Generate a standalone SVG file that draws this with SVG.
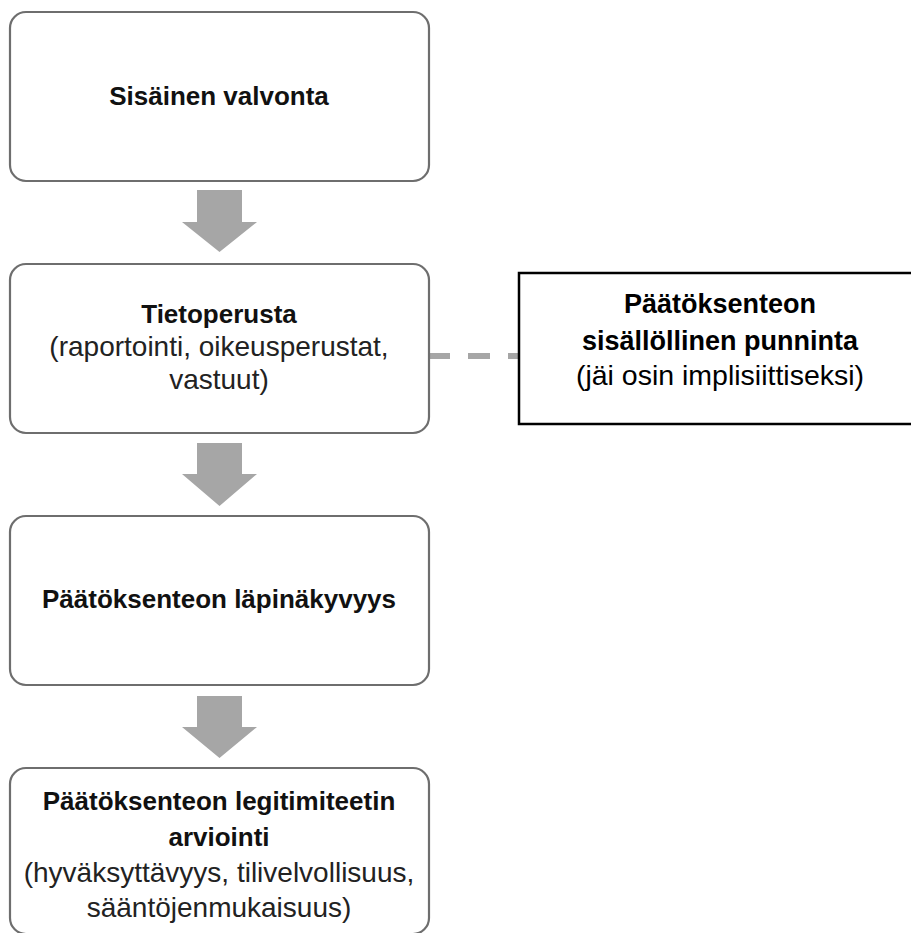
<svg xmlns="http://www.w3.org/2000/svg" width="911" height="933" viewBox="0 0 911 933">
<defs>
<style>
.box{fill:#ffffff;stroke:#6e6e6e;stroke-width:2.2}
.side{fill:#ffffff;stroke:#000000;stroke-width:2.5}
.arrow{fill:#a6a6a6}
.dash{stroke:#a6a6a6;stroke-width:6;stroke-dasharray:22 18;fill:none}
.b{font-family:"Liberation Sans",Arial,sans-serif;font-weight:bold;font-size:26px;fill:#111;text-anchor:middle}
.r{font-family:"Liberation Sans",Arial,sans-serif;font-size:28px;fill:#222;text-anchor:middle}
.bs{font-family:"Liberation Sans",Arial,sans-serif;font-weight:bold;font-size:27px;fill:#000;text-anchor:middle}
.rs{font-family:"Liberation Sans",Arial,sans-serif;font-size:28.5px;fill:#000;text-anchor:middle}
</style>
</defs>
<rect width="911" height="933" fill="#ffffff"/>
<g id="connectors">
<path class="arrow" d="M197,190 H242 V222 H257 L219.5,252 L182,222 H197 Z"/>
<path class="arrow" d="M197,443 H242 V474 H257 L219.5,506 L182,474 H197 Z"/>
<path class="arrow" d="M197,696 H242 V727 H257 L219.5,758 L182,727 H197 Z"/>
<line class="dash" x1="428" y1="356" x2="519" y2="356"/>
</g>
<g id="node-sisainen">
<rect class="box" x="10" y="12" width="419" height="169" rx="16"/>
<text class="b" x="219" y="105">Sisäinen valvonta</text>
</g>
<g id="node-tietoperusta">
<rect class="box" x="10" y="264" width="419" height="169" rx="16"/>
<text class="b" x="219" y="323">Tietoperusta</text>
<text class="r" x="219" y="356">(raportointi, oikeusperustat,</text>
<text class="r" x="219" y="389">vastuut)</text>
</g>
<g id="node-lapinakyvyys">
<rect class="box" x="10" y="516" width="419" height="169" rx="16"/>
<text class="b" x="219" y="608">Päätöksenteon läpinäkyvyys</text>
</g>
<g id="node-legitimiteetti">
<rect class="box" x="10" y="768" width="419" height="166" rx="16"/>
<text class="b" x="219" y="810">Päätöksenteon legitimiteetin</text>
<text class="b" x="219" y="846">arviointi</text>
<text class="r" x="219" y="882">(hyväksyttävyys, tilivelvollisuus,</text>
<text class="r" x="219" y="917">sääntöjenmukaisuus)</text>
</g>
<g id="node-punninta">
<rect class="side" x="519" y="273" width="402" height="151"/>
<text class="bs" x="720" y="313">Päätöksenteon</text>
<text class="bs" x="720" y="350">sisällöllinen punninta</text>
<text class="rs" x="720" y="385">(jäi osin implisiittiseksi)</text>
</g>
</svg>
